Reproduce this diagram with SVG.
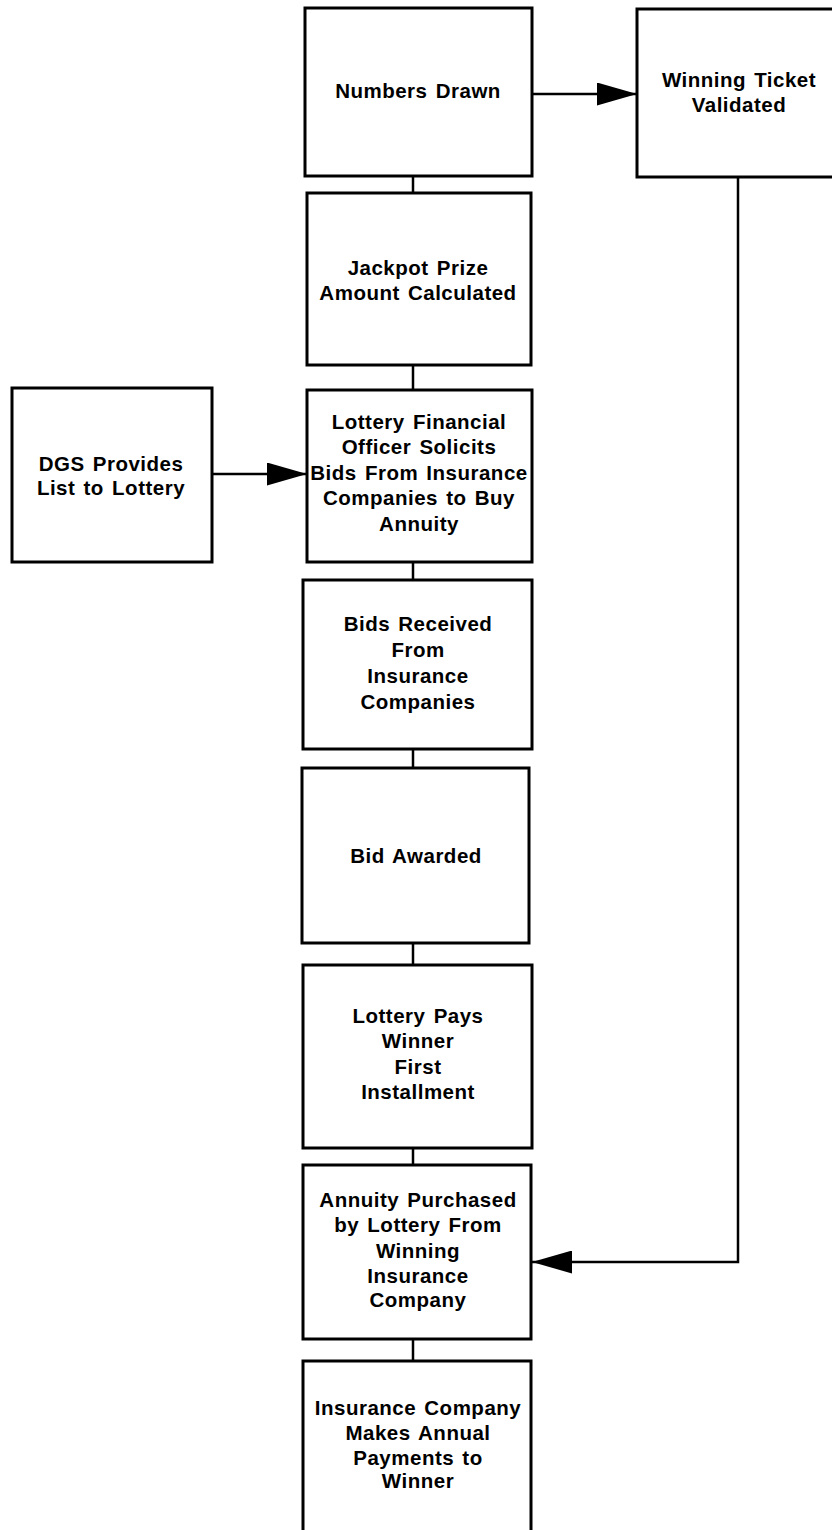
<svg xmlns="http://www.w3.org/2000/svg" width="832" height="1530" viewBox="0 0 832 1530">
<defs>
<style>
.box{fill:#fff;stroke:#000;stroke-width:3}
.lbl{font-family:"Liberation Sans",Arial,sans-serif;font-weight:bold;font-size:20.5px;letter-spacing:0.5px;word-spacing:2px;fill:#000;text-anchor:middle}
.con{stroke:#000;stroke-width:2.5;fill:none}
</style>
<marker id="ah" viewBox="0 0 40 23" refX="40" refY="11.5" markerWidth="40" markerHeight="23" markerUnits="userSpaceOnUse" orient="auto">
<path d="M0,0 L40,11.5 L0,23 Z" fill="#000"/>
</marker>
</defs>
<rect width="832" height="1530" fill="#fff"/>
<g id="connectors">
<line class="con" x1="413" y1="176" x2="413" y2="193"/>
<line class="con" x1="413" y1="365" x2="413" y2="390"/>
<line class="con" x1="413" y1="562" x2="413" y2="580"/>
<line class="con" x1="413" y1="749" x2="413" y2="768"/>
<line class="con" x1="413" y1="943" x2="413" y2="965"/>
<line class="con" x1="413" y1="1148" x2="413" y2="1165"/>
<line class="con" x1="413" y1="1339" x2="413" y2="1361"/>
<line class="con" x1="532" y1="94" x2="637" y2="94" marker-end="url(#ah)"/>
<line class="con" x1="212" y1="474" x2="307" y2="474" marker-end="url(#ah)"/>
<polyline class="con" points="738,177 738,1262 532,1262" marker-end="url(#ah)"/>
</g>
<g id="n1"><rect class="box" x="305" y="8" width="227" height="168"/>
<text class="lbl" x="418" y="98">Numbers Drawn</text></g>
<g id="n2"><rect class="box" x="637" y="9" width="210" height="168"/>
<text class="lbl" x="739" y="87">Winning Ticket</text><text class="lbl" x="739" y="112">Validated</text></g>
<g id="n3"><rect class="box" x="307" y="193" width="224" height="172"/>
<text class="lbl" x="418" y="275">Jackpot Prize</text><text class="lbl" x="418" y="300">Amount Calculated</text></g>
<g id="n4"><rect class="box" x="12" y="388" width="200" height="174"/>
<text class="lbl" x="111" y="471">DGS Provides</text><text class="lbl" x="111" y="495">List to Lottery</text></g>
<g id="n5"><rect class="box" x="307" y="390" width="225" height="172"/>
<text class="lbl" x="419" y="429">Lottery Financial</text><text class="lbl" x="419" y="454">Officer Solicits</text><text class="lbl" x="419" y="480">Bids From Insurance</text><text class="lbl" x="419" y="505">Companies to Buy</text><text class="lbl" x="419" y="531">Annuity</text></g>
<g id="n6"><rect class="box" x="303" y="580" width="229" height="169"/>
<text class="lbl" x="418" y="631">Bids Received</text><text class="lbl" x="418" y="657">From</text><text class="lbl" x="418" y="683">Insurance</text><text class="lbl" x="418" y="709">Companies</text></g>
<g id="n7"><rect class="box" x="302" y="768" width="227" height="175"/>
<text class="lbl" x="416" y="863">Bid Awarded</text></g>
<g id="n8"><rect class="box" x="303" y="965" width="229" height="183"/>
<text class="lbl" x="418" y="1023">Lottery Pays</text><text class="lbl" x="418" y="1048">Winner</text><text class="lbl" x="418" y="1074">First</text><text class="lbl" x="418" y="1099">Installment</text></g>
<g id="n9"><rect class="box" x="303" y="1165" width="228" height="174"/>
<text class="lbl" x="418" y="1207">Annuity Purchased</text><text class="lbl" x="418" y="1232">by Lottery From</text><text class="lbl" x="418" y="1258">Winning</text><text class="lbl" x="418" y="1283">Insurance</text><text class="lbl" x="418" y="1307">Company</text></g>
<g id="n10"><rect class="box" x="303" y="1361" width="228" height="200"/>
<text class="lbl" x="418" y="1415">Insurance Company</text><text class="lbl" x="418" y="1440">Makes Annual</text><text class="lbl" x="418" y="1465">Payments to</text><text class="lbl" x="418" y="1488">Winner</text></g>
</svg>
